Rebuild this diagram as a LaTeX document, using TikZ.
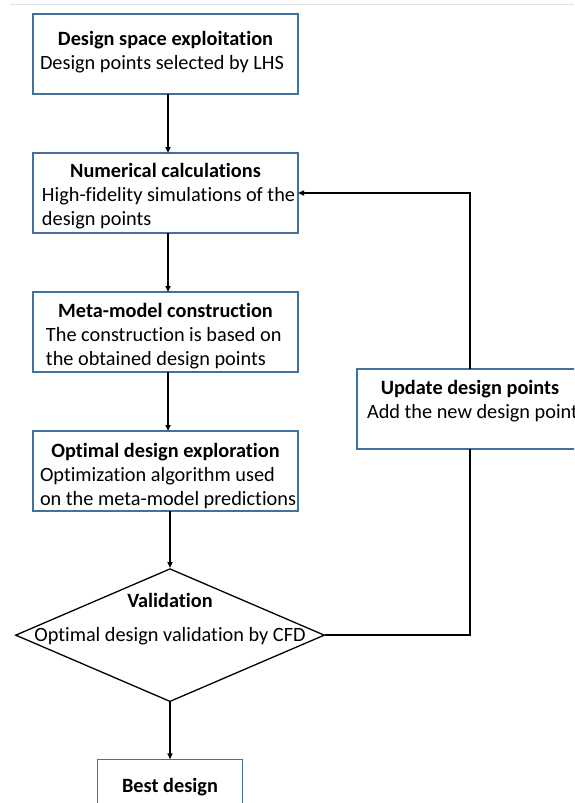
\documentclass[tikz,border=0pt]{standalone}
\usepackage{fontspec}
\setmainfont{Carlito}[Ligatures=NoCommon]
\usetikzlibrary{
  arrows.meta,
  shapes.geometric,
  positioning
}
\definecolor{dsBox}{HTML}{41719C}
\definecolor{dsRule}{HTML}{E4E4E4}
% box body: width, baseline of the heading, heading, body lines
\newcommand{\stepcontent}[4]{%
  \parbox[c][80pt][t]{#1}{\centering\rule{0pt}{#2}\textbf{#3}\par
    \raggedright\leftskip=8pt\relax #4}}
\tikzset{
  stepbox/.style={draw=dsBox, line width=1.5pt, fill=white, inner sep=0pt, outer sep=0pt},
  decision/.style={draw, diamond, line width=1.3pt, minimum width=309pt, minimum height=133pt, inner sep=0pt},
  flow/.style={-{Triangle[length=6pt, width=5pt]}, line width=1.5pt},
  link/.style={line width=1.5pt}
}

\begin{document}
\begin{tikzpicture}[x=1pt, y=1pt, node distance=59pt, font=\fontsize{20.3pt}{24pt}\selectfont]
  \clip (0,0) rectangle (574,-803);
  \draw[dsRule, line width=1pt] (10,-4) -- (574,-4);

  % main chain
  \node[stepbox, anchor=north west] (dse) at (33,-14)
    {\stepcontent{265pt}{31pt}{Design space exploitation}{\leftskip=7pt Design points selected by LHS}};
  \node[stepbox, below=of dse] (num)
    {\stepcontent{265pt}{24pt}{Numerical calculations}{\leftskip=9pt High-fidelity simulations of the\\design points}};
  \node[stepbox, below=of num] (meta)
    {\stepcontent{265pt}{25pt}{Meta-model construction}{\leftskip=13pt The construction is based on\\the obtained design points}};
  \node[stepbox, below=of meta] (opt)
    {\stepcontent{265pt}{26pt}{Optimal design exploration}{\leftskip=7pt Optimization algorithm used\\on the meta-model predictions}};

  \node[decision, below=57pt of opt, xshift=4.5pt] (val) {};
  \node[anchor=base] (valhead) at ([yshift=27.5pt]val.center) {\textbf{Validation}};
  \node[anchor=base] (valnote) at ([yshift=-6.5pt]val.center) {Optimal design validation by CFD};

  \node[stepbox, below=57pt of val] (best) {\stepcontent{145pt}{33pt}{Best design}{}};

  % side loop
  \node[stepbox, anchor=north west] (upd) at (357,-369)
    {\stepcontent{226pt}{25pt}{Update design points}{\leftskip=10pt Add the new design point}};

  \foreach \a/\b in {dse/num, num/meta, meta/opt}{
    \draw[flow] ([xshift=2.5pt]\a.south) -- ([xshift=2.5pt]\a.south |- \b.north);
  }
  \draw[flow] (opt.south -| val.north) -- (val.north);
  \draw[flow] (val) -- (best);
  \draw[link] (val.east) -| (upd.south);
  \draw[flow] (upd.north) |- (num.east);
\end{tikzpicture}
\end{document}
